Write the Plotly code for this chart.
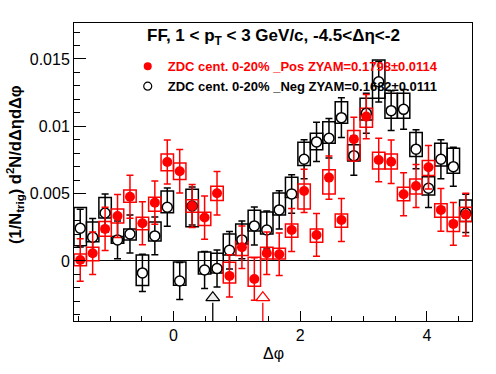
import numpy as np
import plotly.graph_objects as go

# ---------------- data ----------------
NBINS = 32
bin_width = 2 * np.pi / NBINS
dphi = -np.pi / 2 + (np.arange(NBINS) + 0.5) * bin_width

pos_y = [0.00007, 0.00057, 0.00238, 0.00334, 0.00477, 0.00280, 0.00433, 0.00735,
         0.00666, 0.00408, 0.00322, 0.00503, -0.00111, 0.00102, -0.00134, 0.00057,
         0.00050, 0.00230, 0.00520, 0.00193, 0.00619, 0.00304, 0.00904, 0.01072,
         0.00750, 0.00737, 0.00495, 0.00557, 0.00696, 0.00379, 0.00275, 0.00344]
pos_stat = [0.00158, 0.00158, 0.00160, 0.00160, 0.00160, 0.00159, 0.00160, 0.00163,
            0.00162, 0.00160, 0.00160, 0.00161, 0.00157, 0.00158, 0.00157, 0.00158,
            0.00158, 0.00159, 0.00161, 0.00159, 0.00161, 0.00160, 0.00163, 0.00164,
            0.00161, 0.00161, 0.00160, 0.00160, 0.00161, 0.00159, 0.00159, 0.00159]
pos_sys_up = [0.00045, 0.00045, 0.00054, 0.00052, 0.00050, 0.00045, 0.00040, 0.00059,
              0.00062, 0.00047, 0.00040, 0.00052, 0.00102, 0.00045, 0.00161, 0.00045,
              0.00045, 0.00045, 0.00052, 0.00045, 0.00059, 0.00045, 0.00064, 0.00062,
              0.00057, 0.00057, 0.00052, 0.00052, 0.00049, 0.00045, 0.00050, 0.00055]
pos_sys_dn = [0.00042, 0.00055, 0.00054, 0.00052, 0.00042, 0.00048, 0.00064, 0.00065,
              0.00062, 0.00047, 0.00059, 0.00055, 0.00052, 0.00062, 0.00054, 0.00042,
              0.00035, 0.00054, 0.00134, 0.00054, 0.00121, 0.00054, 0.00154, 0.00079,
              0.00067, 0.00054, 0.00048, 0.00059, 0.00062, 0.00054, 0.00057, 0.00052]

neg_y = [0.00243, 0.00176, 0.00356, 0.00156, 0.00200, -0.00089, 0.00186, 0.00399,
         -0.00149, 0.00408, -0.00067, -0.00056, 0.00079, 0.00156, 0.00260, 0.00230,
         0.00379, 0.00498, 0.00755, 0.00884, 0.00911, 0.01064, 0.00782, 0.01097,
         0.01331, 0.01116, 0.01126, 0.00830, 0.00540, 0.00755, 0.00700, 0.00354]
neg_stat = [0.00140, 0.00140, 0.00142, 0.00140, 0.00141, 0.00138, 0.00140, 0.00142,
            0.00138, 0.00141, 0.00138, 0.00138, 0.00139, 0.00140, 0.00141, 0.00141,
            0.00142, 0.00143, 0.00145, 0.00146, 0.00146, 0.00148, 0.00145, 0.00148,
            0.00150, 0.00148, 0.00148, 0.00145, 0.00143, 0.00145, 0.00145, 0.00142]
neg_sys_up = [0.00153, 0.00114, 0.00115, 0.00025, 0.00037, 0.00134, 0.00104, 0.00121,
              0.00141, 0.00124, 0.00134, 0.00113, 0.00121, 0.00119, 0.00117, 0.00134,
              0.00126, 0.00123, 0.00127, 0.00065, 0.00123, 0.00119, 0.00080, 0.00111,
              0.00161, 0.00129, 0.00119, 0.00123, 0.00086, 0.00119, 0.00137, 0.00099]
neg_sys_dn = [0.00131, 0.00033, 0.00037, 0.00025, 0.00045, 0.00094, 0.00037, 0.00042,
              0.00032, 0.00154, 0.00030, 0.00033, 0.00035, 0.00030, 0.00037, 0.00030,
              0.00037, 0.00026, 0.00046, 0.00059, 0.00037, 0.00042, 0.00039, 0.00050,
              0.00123, 0.00056, 0.00067, 0.00055, 0.00050, 0.00050, 0.00049, 0.00062]

# ZYAM minimum positions (Neg, Pos)
zyam_x = [0.62, 1.41]
zyam_colors = ["black", "red"]

title_text = "<b>FF, 1 &lt; p<sub>T</sub> &lt; 3 GeV/c, -4.5&lt;Δη&lt;-2</b>"
pos_label = "ZDC cent. 0-20% _Pos ZYAM=0.1798±0.0114"
neg_label = "ZDC cent. 0-20% _Neg ZYAM=0.1682±0.0111"
x_title = "Δφ"
y_title = "<b>(1/N<sub>trig</sub>) d<sup>2</sup>N/dΔηdΔφ</b>"

# ---------------- style ----------------
XMIN, XMAX = -np.pi / 2, 3 * np.pi / 2
YMIN, YMAX = -0.00446, 0.01767
FONT = "Liberation Sans, Arial, Helvetica, sans-serif"
ARROW_Y = -0.00273
ARROW_BASE = -0.0031

fig = go.Figure()

def sys_boxes(y, up, dn, color):
    y = np.array(y); up = np.array(up); dn = np.array(dn)
    fig.add_trace(go.Bar(
        x=dphi, y=up + dn, base=y - dn, width=bin_width,
        marker=dict(color="rgba(0,0,0,0)", line=dict(color=color, width=1.5)),
        showlegend=False, hoverinfo="skip"))

sys_boxes(neg_y, neg_sys_up, neg_sys_dn, "black")
sys_boxes(pos_y, pos_sys_up, pos_sys_dn, "red")

# ZYAM arrows
for zx, col in zip(zyam_x, zyam_colors):
    fig.add_trace(go.Scatter(x=[zx, zx], y=[ARROW_BASE, YMIN], mode="lines",
                             line=dict(color=col, width=1.3), showlegend=False,
                             hoverinfo="skip"))
    fig.add_trace(go.Scatter(x=[zx], y=[ARROW_Y], mode="markers",
                             marker=dict(symbol="triangle-up", size=12,
                                         color="rgb(238,238,238)" if col == "black" else "white",
                                         line=dict(color=col, width=1.3)),
                             showlegend=False, hoverinfo="skip"))

fig.add_trace(go.Scatter(
    x=dphi, y=neg_y, mode="markers", showlegend=False,
    marker=dict(symbol="circle", size=10, color="white", line=dict(color="black", width=1.5)),
    error_y=dict(type="data", array=neg_stat, color="black", thickness=1.5, width=3.5)))

fig.add_trace(go.Scatter(
    x=dphi, y=pos_y, mode="markers", showlegend=False,
    marker=dict(symbol="circle", size=10, color="red", line=dict(color="red", width=0)),
    error_y=dict(type="data", array=pos_stat, color="red", thickness=1.5, width=3.5)))

# legend entries (smaller symbols like the reference legend)
fig.add_trace(go.Scatter(
    x=[None], y=[None], mode="markers",
    name="<b><span style='color:red'>" + pos_label + "</span></b>",
    marker=dict(symbol="circle", size=8, color="red")))
fig.add_trace(go.Scatter(
    x=[None], y=[None], mode="markers", name="<b>" + neg_label + "</b>",
    marker=dict(symbol="circle", size=8, color="white", line=dict(color="black", width=1.2))))

fig.update_layout(
    width=496, height=374,
    margin=dict(l=74, r=24, t=23, b=53),
    paper_bgcolor="white", plot_bgcolor="white",
    barmode="overlay",
    font=dict(family=FONT, color="black", size=16),
    showlegend=True,
    legend=dict(x=0.135, y=0.905, xanchor="left", yanchor="top",
                bgcolor="rgba(0,0,0,0)", font=dict(size=13, family=FONT),
                traceorder="normal", tracegroupgap=0),
    xaxis=dict(range=[XMIN, XMAX], showgrid=False, zeroline=False,
               showline=True, linecolor="black", linewidth=1, mirror=True,
               ticks="inside", ticklen=10, tickcolor="black", tickwidth=1,
               tick0=0, dtick=2, tickfont=dict(size=16),
               minor=dict(ticks="inside", dtick=0.5, tick0=0, ticklen=5,
                          tickcolor="black", showgrid=False)),
    yaxis=dict(range=[YMIN, YMAX], showgrid=False,
               zeroline=True, zerolinecolor="black", zerolinewidth=1,
               showline=True, linecolor="black", linewidth=1, mirror=True,
               ticks="inside", ticklen=12, tickcolor="black", tickwidth=1,
               tick0=0, dtick=0.005, tickfont=dict(size=16),
               minor=dict(ticks="inside", dtick=0.001, tick0=0, ticklen=6,
                          tickcolor="black", showgrid=False)),
    annotations=[
        dict(text=title_text, xref="paper", yref="paper", x=0.5, y=(321 - 37) / 298,
             xanchor="center", yanchor="middle", showarrow=False,
             font=dict(size=17, family=FONT)),
        dict(text=x_title, xref="paper", yref="paper", x=0.5, y=-(353 - 321) / 298,
             xanchor="center", yanchor="middle", showarrow=False,
             font=dict(size=16, family=FONT)),
        dict(text=y_title, xref="paper", yref="paper", x=-(74 - 15) / 398, y=(321 - 165) / 298,
             xanchor="center", yanchor="middle", showarrow=False, textangle=-90,
             font=dict(size=16.5, family=FONT)),
    ],
)

fig.write_html("out.html",
               config={"displayModeBar": False},
               post_script="document.body.style.margin='0';document.body.style.padding='0';")
